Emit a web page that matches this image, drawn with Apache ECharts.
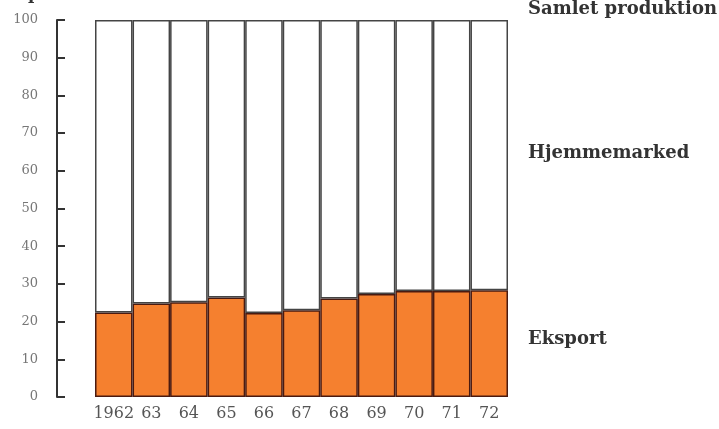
<!DOCTYPE html>
<html>
<head>
<meta charset="utf-8">
<script src="https://cdn.jsdelivr.net/npm/echarts@6/dist/echarts.min.js"></script>
<style>
  html, body { margin: 0; padding: 0; background: #fff; }
  #chart { width: 719px; height: 429px; }
</style>
</head>
<body>
<div id="chart"></div>
<script>
// år
var years = ['1962', '63', '64', '65', '66', '67', '68', '69', '70', '71', '72']
// eksport i procent af samlet produktion
var eksport = [22.4, 24.8, 25.1, 26.4, 22.3, 23.0, 26.1, 27.3, 28.1, 28.1, 28.3]
// hjemmemarked i procent
var hjemmemarked = [77.6, 75.2, 74.9, 73.6, 77.7, 77.0, 73.9, 72.7, 71.9, 71.9, 71.7]
var yTicks = [0, 10, 20, 30, 40, 50, 60, 70, 80, 90, 100]

var serif = '"DejaVu Serif", "Liberation Serif", serif'
var chart = echarts.init(document.getElementById('chart'))

chart.setOption({
  animation: false,
  grid: { left: 95, right: 211, top: 20, bottom: 32 },
  xAxis: {
    type: 'category',
    data: years,
    axisLine: { show: false },
    axisTick: { show: false },
    axisLabel: { interval: 0, color: '#555', fontFamily: serif, fontSize: 16, margin: 9 }
  },
  yAxis: {
    type: 'value',
    min: 0,
    max: 100,
    interval: 10,
    offset: 38,
    splitLine: { show: false },
    axisLine: { show: true, lineStyle: { color: '#333', width: 2 } },
    axisTick: { show: true, inside: true, length: 8, lineStyle: { color: '#333', width: 2 } },
    axisLabel: {
      color: '#777', fontFamily: serif, fontSize: 13, margin: 19,
      formatter: function (v) { return yTicks.indexOf(v) >= 0 ? String(v) : '' }
    }
  },
  series: [
    {
      name: 'Eksport',
      type: 'bar',
      stack: 'total',
      barCategoryGap: 0,
      data: eksport,
      itemStyle: { color: '#F5802F', borderColor: '#4a1a10', borderWidth: 1.5 }
    },
    {
      name: 'Hjemmemarked',
      type: 'bar',
      stack: 'total',
      barCategoryGap: 0,
      data: hjemmemarked,
      itemStyle: { color: '#fff', borderColor: '#444', borderWidth: 1.5 }
    }
  ],
  graphic: [
    { type: 'text', left: 28, top: -14, style: { text: 'procent', font: 'bold 17px ' + serif, fill: '#333' } },
    { type: 'text', left: 528, top: 0, style: { text: 'Samlet produktion', font: 'bold 18px ' + serif, fill: '#333' } },
    { type: 'text', left: 528, top: 144, style: { text: 'Hjemmemarked', font: 'bold 18px ' + serif, fill: '#333' } },
    { type: 'text', left: 528, top: 330, style: { text: 'Eksport', font: 'bold 18px ' + serif, fill: '#333' } }
  ]
})
</script>
</body>
</html>
